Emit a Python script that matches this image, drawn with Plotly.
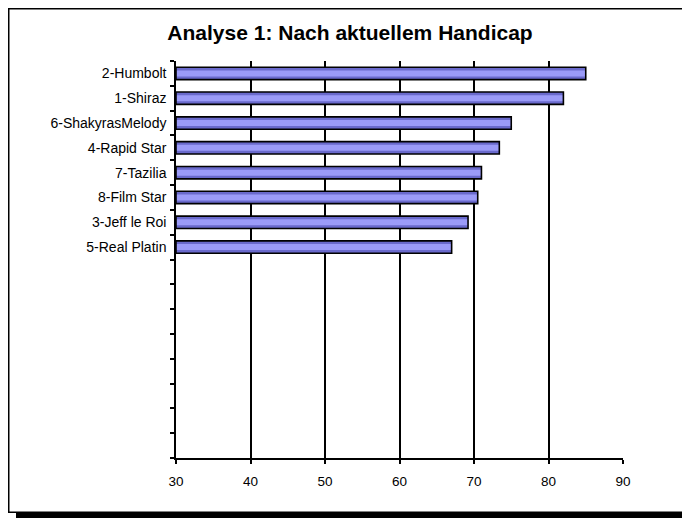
import plotly.graph_objects as go

# ---- data ----
horses = ["2-Humbolt", "1-Shiraz", "6-ShakyrasMelody", "4-Rapid Star",
          "7-Tazilia", "8-Film Star", "3-Jeff le Roi", "5-Real Platin"]
handicap = [85.0, 82.0, 75.0, 73.4, 71.0, 70.5, 69.2, 67.0]
empty_slots = ["leer%d" % i for i in range(8)]
x_ticks = [30, 40, 50, 60, 70, 80, 90]
title_text = "Analyse 1: Nach aktuellem Handicap"

categories = horses + empty_slots
tick_text = horses + [""] * len(empty_slots)

FONT = "Liberation Sans, Arial, sans-serif"

fig = go.Figure()
base = [x_ticks[0]] * len(horses)
lengths = [v - b for v, b in zip(handicap, base)]
# dark body
fig.add_trace(go.Bar(y=horses, x=lengths, base=base, orientation="h", width=0.5,
                     marker=dict(color="#6A6ACC", line=dict(width=0))))
# lighter middle highlight
fig.add_trace(go.Bar(y=horses, x=lengths, base=base, orientation="h", width=0.24,
                     marker=dict(color="#9B9BF8", line=dict(width=0))))
# outline
fig.add_trace(go.Bar(y=horses, x=lengths, base=base, orientation="h", width=0.5,
                     marker=dict(color="rgba(0,0,0,0)", line=dict(width=1.6, color="black"))))

# figure size (page has an 8px body margin)
FW, FH = 682, 510
# plot area in figure pixels
L, R, T, B = 168, 615, 53, 450
W, H = R - L, B - T

def px(xp):
    return (xp - L) / W

def py(yp):
    return (B - yp) / H

shapes = [
    dict(type="rect", xref="paper", yref="paper", layer="below",
         x0=px(8), x1=px(700), y0=py(530), y1=py(7),
         fillcolor="black", line=dict(width=0)),
    dict(type="rect", xref="paper", yref="paper", layer="below",
         x0=px(0.75), x1=px(678.8), y0=py(504.3), y1=py(0.75),
         fillcolor="white", line=dict(width=1.5, color="black")),
]

fig.update_layout(
    width=FW, height=FH,
    margin=dict(l=L, r=FW - R, t=T, b=FH - B),
    paper_bgcolor="white", plot_bgcolor="rgba(0,0,0,0)",
    barmode="overlay", showlegend=False,
    shapes=shapes,
    font=dict(family=FONT, color="black", size=13),
    title=dict(text="<b>%s</b>" % title_text, font=dict(family=FONT, size=21, color="black"),
               x=342 / FW, xref="container", xanchor="center",
               y=1 - 25 / FH, yref="container", yanchor="middle"),
    xaxis=dict(range=[x_ticks[0], x_ticks[-1]], tickvals=x_ticks,
               showgrid=True, gridcolor="black", gridwidth=1.5,
               showline=True, linecolor="black", linewidth=1.5,
               ticks="outside", ticklen=4, tickcolor="black", tickwidth=1.5,
               ticklabelstandoff=6,
               zeroline=False, tickfont=dict(size=13.5)),
    yaxis=dict(type="category", categoryorder="array", categoryarray=categories,
               tickvals=categories, ticktext=tick_text,
               range=[len(categories) - 0.5, -0.5],
               showgrid=False, showline=True, linecolor="black", linewidth=1.5,
               ticks="outside", ticklen=4, tickcolor="black", tickwidth=1.5,
               ticklabelstandoff=5,
               tickson="boundaries", zeroline=False, tickfont=dict(size=14)),
)

fig.write_html("out.html")
